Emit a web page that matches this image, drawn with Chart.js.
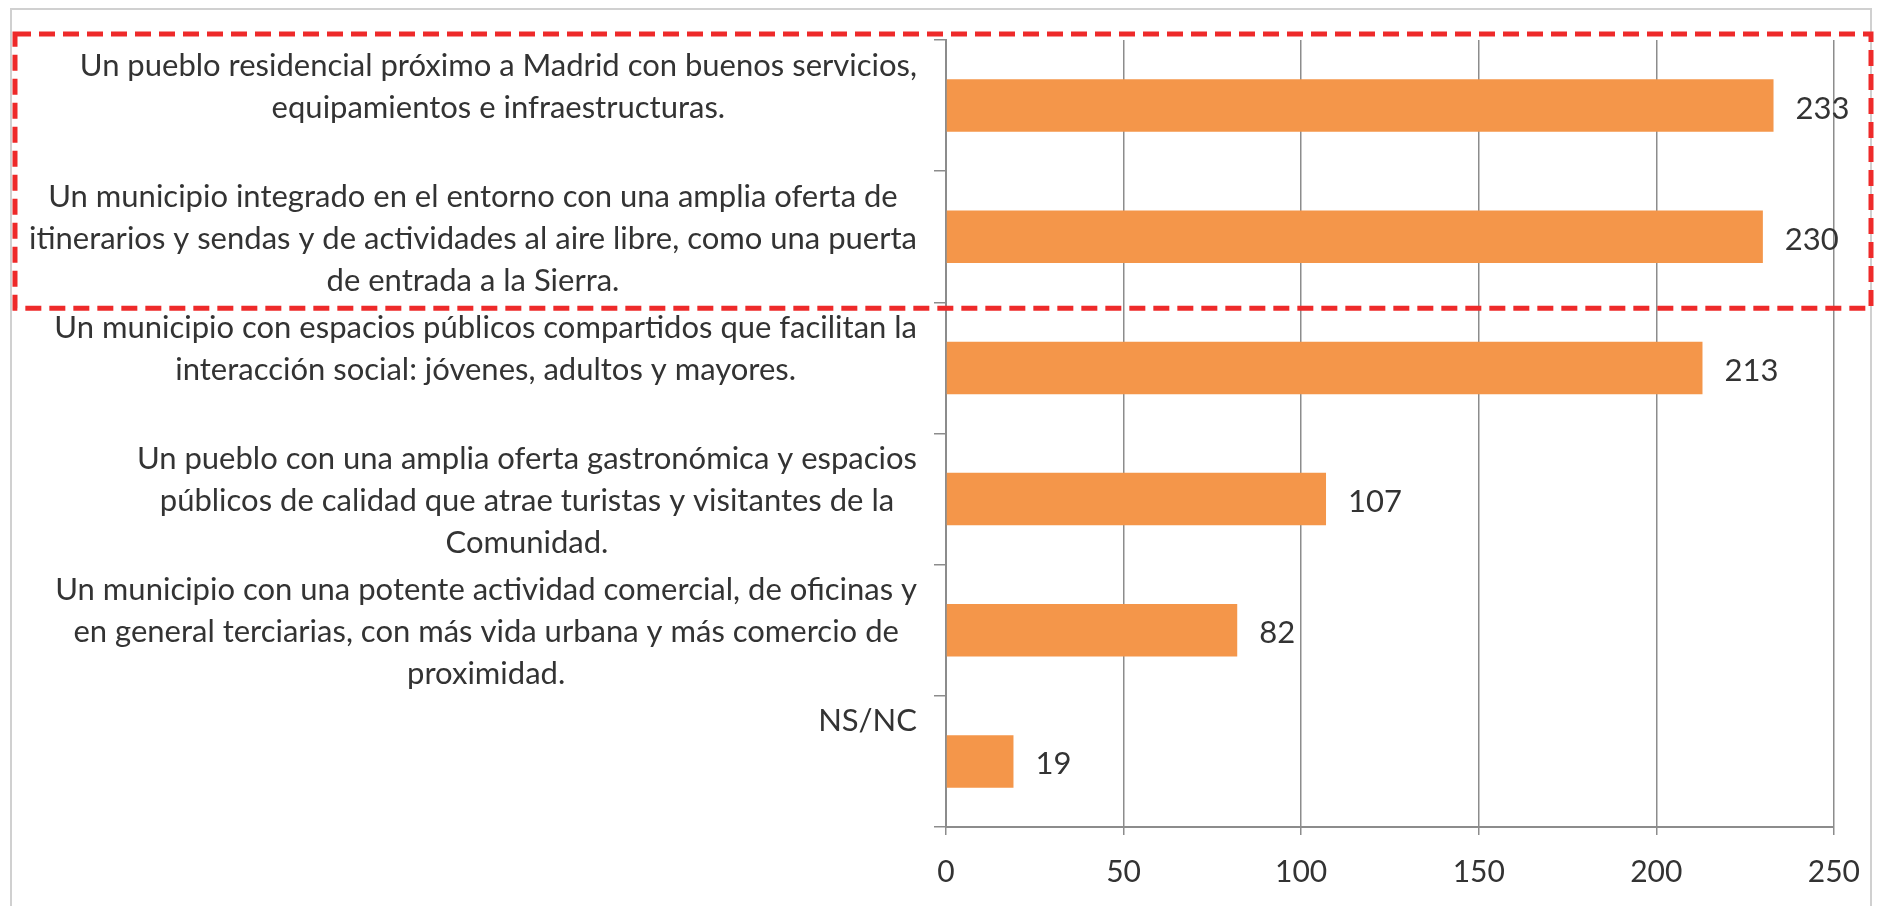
<!DOCTYPE html>
<html lang="es">
<head>
    <meta charset="UTF-8">
    <title>Modelo de municipio</title>
    <style>
        body {
            margin: 0;
            padding: 0;
            background-color: #fff;
        }
        .wrap {
            width: 1879px;
            height: 906px;
        }
    </style>
</head>
<body>
    <div class="wrap">
        <canvas id="chart" width="1879" height="906"></canvas>
    </div>
    <script src="https://cdn.jsdelivr.net/npm/chart.js"></script>
    <script>
        // each category label has 3 lines (trailing blanks keep the Excel layout)
        const categories = [
            ['Un pueblo residencial próximo a Madrid con buenos servicios,', 'equipamientos e infraestructuras.', ''],
            ['Un municipio integrado en el entorno con una amplia oferta de', 'itinerarios y sendas y de actividades al aire libre, como una puerta', 'de entrada a la Sierra.'],
            ['Un municipio con espacios públicos compartidos que facilitan la', 'interacción social: jóvenes, adultos y mayores.', ''],
            ['Un pueblo con una amplia oferta gastronómica y espacios', 'públicos de calidad que atrae turistas y visitantes de la', 'Comunidad.'],
            ['Un municipio con una potente actividad comercial, de oficinas y', 'en general terciarias, con más vida urbana y más comercio de', 'proximidad.'],
            ['NS/NC', '', '']
        ];
        const values = [233, 230, 213, 107, 82, 19];
        const xTicks = [0, 50, 100, 150, 200, 250];
        const highlighted = [0, 1];

        const FONT = 'Lato, "Open Sans", sans-serif';
        const TEXT = '#333333';
        const GRID = '#8c8c8c';

        const labelPlugin = {
            id: 'labels',
            beforeDraw(chart) {
                const ctx = chart.ctx;
                // light frame around the picture
                ctx.save();
                ctx.strokeStyle = '#d0d0d0';
                ctx.lineWidth = 2;
                ctx.strokeRect(11, 9, chart.width - 19, chart.height + 10);
                ctx.restore();
            },
            afterDraw(chart) {
                const ctx = chart.ctx;
                const y = chart.scales.y;
                const area = chart.chartArea;
                const lineH = 42;
                ctx.save();
                ctx.font = '31px ' + FONT;
                ctx.fillStyle = TEXT;
                ctx.textBaseline = 'middle';
                ctx.textAlign = 'center';
                categories.forEach((lines, i) => {
                    const cy = y.getPixelForValue(i) + 2;
                    const w = Math.max(...lines.map(l => ctx.measureText(l).width));
                    const cx = area.left - 29 - w / 2;
                    lines.forEach((l, j) => {
                        ctx.fillText(l, cx, cy + (j - 1) * lineH);
                    });
                });

                // value labels next to bars
                ctx.textAlign = 'left';
                chart.getDatasetMeta(0).data.forEach((bar, i) => {
                    ctx.fillText(String(values[i]), bar.x + 22, bar.y + 3);
                });

                // red dashed highlight box
                const step = y.getPixelForValue(1) - y.getPixelForValue(0);
                const top = y.getPixelForValue(highlighted[0]) - step / 2 - 6;
                const bottom = y.getPixelForValue(highlighted[highlighted.length - 1]) + step / 2 + 6;
                ctx.strokeStyle = '#ee2a2a';
                ctx.lineWidth = 5;
                ctx.setLineDash([16, 8]);
                ctx.strokeRect(15, top, chart.width - 23, bottom - top);
                ctx.restore();
            }
        };

        new Chart(document.getElementById('chart'), {
            type: 'bar',
            data: {
                labels: categories,
                datasets: [{
                    data: values,
                    backgroundColor: '#f4964a',
                    borderWidth: 0,
                    barPercentage: 0.4,
                    categoryPercentage: 1.0
                }]
            },
            options: {
                indexAxis: 'y',
                responsive: false,
                animation: false,
                layout: {
                    padding: { top: 40, right: 45, left: 0, bottom: 0 }
                },
                plugins: {
                    legend: { display: false },
                    tooltip: { enabled: false }
                },
                scales: {
                    x: {
                        min: 0,
                        max: 250,
                        afterBuildTicks(scale) {
                            scale.ticks = xTicks.map(v => ({ value: v }));
                        },
                        afterFit(scale) {
                            scale.height = 79;
                        },
                        grid: {
                            color: GRID,
                            lineWidth: 1.5,
                            tickLength: 8
                        },
                        border: { color: GRID, width: 2 },
                        ticks: {
                            color: TEXT,
                            padding: 19,
                            font: { family: FONT, size: 30 }
                        }
                    },
                    y: {
                        afterFit(scale) {
                            scale.width = 946;
                        },
                        grid: {
                            offset: true,
                            drawOnChartArea: false,
                            color: GRID,
                            lineWidth: 1.5,
                            tickLength: 12
                        },
                        border: { color: GRID, width: 2 },
                        ticks: { display: false }
                    }
                }
            },
            plugins: [labelPlugin]
        });
    </script>
</body>
</html>
